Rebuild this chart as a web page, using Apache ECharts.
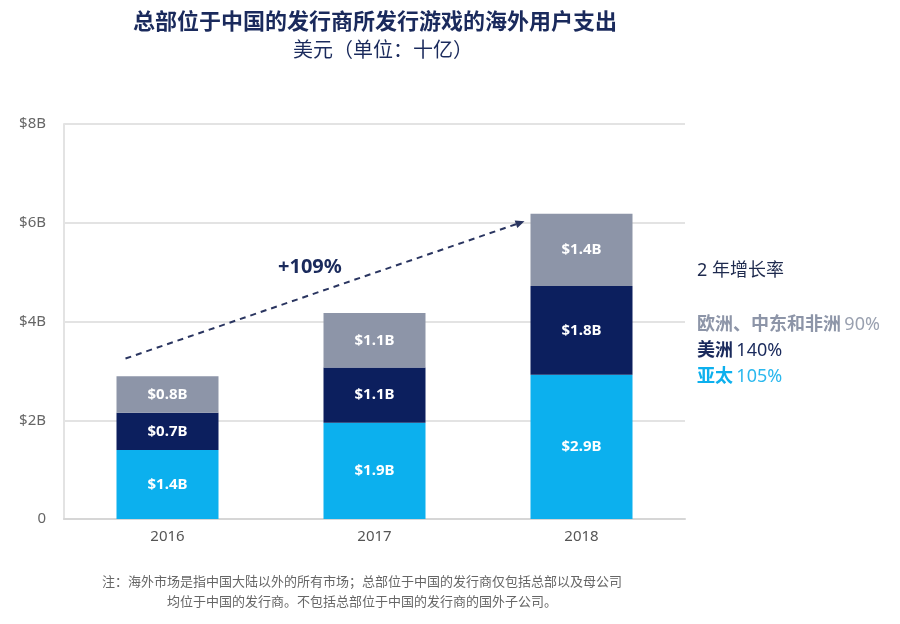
<!DOCTYPE html>
<html><head><meta charset="utf-8">
<script src="https://cdn.jsdelivr.net/npm/echarts@6/dist/echarts.min.js"></script>
<style>html,body{margin:0;padding:0;background:#fff}#c{width:900px;height:624px}</style>
</head><body><div id="c"></div>
<script>
const years = ['2016', '2017', '2018'];
const apacValues = [1.4, 1.95, 2.92];
const americasValues = [0.75, 1.12, 1.8];
const emeaValues = [0.74, 1.1, 1.46];
const apacLabels = ['$1.4B', '$1.9B', '$2.9B'];
const americasLabels = ['$0.7B', '$1.1B', '$1.8B'];
const emeaLabels = ['$0.8B', '$1.1B', '$1.4B'];
const yTicks = [0, 2, 4, 6, 8];
const growthRegions = ['欧洲、中东和非洲', '美洲', '亚太'];
const growthRates = ['90%', '140%', '105%'];
const totalGrowth = '+109%';
const arrowFrom = [0, 3.25];
const arrowTo = [2, 6.03];

const FONT = '"Noto Sans", "Noto Sans CJK SC", sans-serif';
const C_APAC = '#0cb0ee', C_AM = '#0c1f5e', C_EMEA = '#8d95a8', C_NAVY = '#1a2a5c';

const chart = echarts.init(document.getElementById('c'));
function lbl(arr){
  return {show:true, position:'inside', color:'#fff', fontWeight:'bold', fontSize:15, fontFamily:FONT,
    formatter: p => arr[p.dataIndex]};
}
const option = {
  animation:false,
  textStyle:{fontFamily:FONT},
  title:[
    {text:'总部位于中国的发行商所发行游戏的海外用户支出', left:370, top:7, textAlign:'center',
     textStyle:{fontSize:22, fontWeight:'bold', color:C_NAVY, fontFamily:FONT}},
    {text:'美元（单位：十亿）', left:378, top:36, textAlign:'center',
     textStyle:{fontSize:20, fontWeight:'normal', color:C_NAVY, fontFamily:FONT}}
  ],
  grid:{left:64, right:215, top:124, bottom:105},
  xAxis:{type:'category', data:years,
    axisLine:{lineStyle:{color:'#d6d6d6', width:2}}, axisTick:{show:false},
    axisLabel:{color:'#555', fontSize:15, margin:10, fontFamily:FONT}},
  yAxis:{type:'value', min:0, max:8, interval:2,
    axisLine:{show:true, lineStyle:{color:'#e3e3e3', width:2}},
    splitLine:{lineStyle:{color:'#e3e3e3', width:2}},
    axisLabel:{color:'#666', fontSize:15, margin:18, fontFamily:FONT,
      formatter: v => yTicks.includes(v) ? (v===0 ? '0' : '$'+v+'B') : ''}},
  series:[
    {name:'亚太', type:'bar', stack:'t', data:apacValues, barWidth:102, itemStyle:{color:C_APAC}, label:lbl(apacLabels)},
    {name:'美洲', type:'bar', stack:'t', data:americasValues, itemStyle:{color:C_AM}, label:lbl(americasLabels)},
    {name:'欧洲、中东和非洲', type:'bar', stack:'t', data:emeaValues, itemStyle:{color:C_EMEA}, label:lbl(emeaLabels)}
  ]
};
chart.setOption(option);

const p1 = chart.convertToPixel({gridIndex:0}, arrowFrom);
const p2 = chart.convertToPixel({gridIndex:0}, arrowTo);
const x1 = p1[0]-42, y1 = p1[1], x2 = p2[0]-57, y2 = p2[1];
const ang = Math.atan2(y2-y1, x2-x1);
const hl = 9, hw = 4;
const bx = x2 - hl*Math.cos(ang), by = y2 - hl*Math.sin(ang);
const head = [[x2,y2],[bx + hw*Math.sin(ang), by - hw*Math.cos(ang)],[bx - hw*Math.sin(ang), by + hw*Math.cos(ang)]];

const legendColors = [C_EMEA, C_NAVY, C_APAC];
const legendRateColors = ['#9aa1b0', '#1a2a5c', '#2ab8ee'];
const graphics = [
  {type:'line', shape:{x1:x1,y1:y1,x2:bx,y2:by}, style:{stroke:'#2a3560', lineWidth:2, lineDash:[6,5]}},
  {type:'polygon', shape:{points:head}, style:{fill:'#2a3560'}},
  {type:'text', x:278, y:257, style:{text:totalGrowth, fill:C_NAVY, font:'bold 20px '+FONT}},
  {type:'text', x:697, y:262, style:{text:'2 年增长率', fill:'#1e2a4e', font:'18px '+FONT}},
  {type:'text', x:362, y:572, style:{text:'注：海外市场是指中国大陆以外的所有市场；总部位于中国的发行商仅包括总部以及母公司\n均位于中国的发行商。不包括总部位于中国的发行商的国外子公司。',
    fill:'#666', font:'13px '+FONT, align:'center', lineHeight:20}}
];
growthRegions.forEach((r,i)=>{
  graphics.push({type:'text', x:697, y:316+i*26, style:{
    text:'{a|'+r+'} {b|'+growthRates[i]+'}',
    rich:{a:{fill:legendColors[i], font:'bold 18px '+FONT}, b:{fill:legendRateColors[i], font:'18px '+FONT}}
  }});
});
chart.setOption({graphic:graphics});
</script></body></html>
